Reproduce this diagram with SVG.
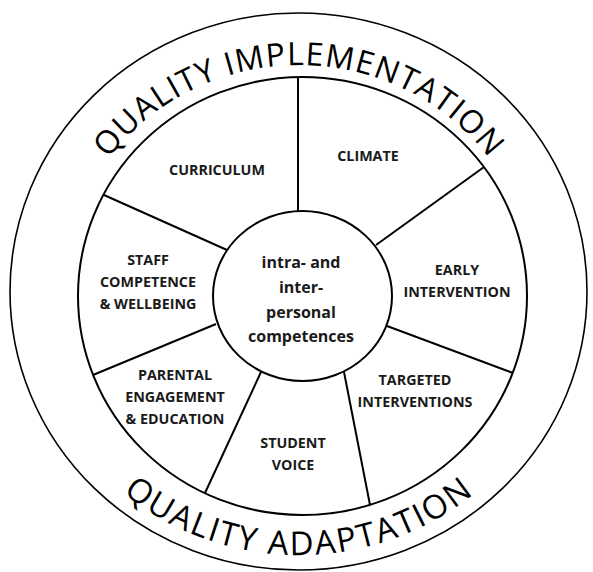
<svg xmlns="http://www.w3.org/2000/svg" width="593" height="572" viewBox="0 0 593 572">
<defs>
<style>
.ring{fill:none;stroke:#000;stroke-width:1.6}
.line{fill:none;stroke:#000;stroke-width:2}
.lbl{font-family:"Open Sans","Liberation Sans",sans-serif;font-weight:700;font-size:14.3px;fill:#1a1a1a;text-anchor:middle}
.ctr{font-family:"Open Sans","Liberation Sans",sans-serif;font-weight:700;font-size:16px;fill:#1a1a1a;text-anchor:middle}
.arc{font-family:"Open Sans","Liberation Sans",sans-serif;font-weight:400;font-size:32px;letter-spacing:1.2px;fill:#000;text-anchor:middle}
</style>
<path id="topArc" d="M 64,291.5 A 235 226.5 0 0 1 534,291.5"/>
<path id="botArc" d="M 26,291.5 A 273 263.5 0 0 0 572,291.5"/>
</defs>
<rect width="593" height="572" fill="#fff"/>
<g id="outer-ring">
<ellipse class="ring" cx="298.5" cy="291.5" rx="288.5" ry="278.5"/>
<text class="arc"><textPath href="#topArc" startOffset="50%">QUALITY IMPLEMENTATION</textPath></text>
<text class="arc" style="font-size:33px;letter-spacing:2px"><textPath href="#botArc" startOffset="50%">QUALITY ADAPTATION</textPath></text>
</g>
<g id="wheel">
<ellipse class="line" cx="302.5" cy="296" rx="224.5" ry="219"/>
</g>
<g id="connectors">
<line class="line" x1="298" y1="77" x2="298" y2="211"/>
<line class="line" x1="484" y1="167" x2="376" y2="245"/>
<line class="line" x1="513" y1="373" x2="387" y2="326"/>
<line class="line" x1="370" y1="505" x2="344" y2="372"/>
<line class="line" x1="205" y1="493" x2="261" y2="372"/>
<line class="line" x1="93" y1="375" x2="216" y2="324"/>
<line class="line" x1="104" y1="195" x2="227" y2="250"/>
</g>
<g id="center">
<ellipse class="line" cx="302.5" cy="296" rx="89.5" ry="85" fill="#fff"/>
<text class="ctr" x="301" y="268">intra- and</text>
<text class="ctr" x="301" y="293">inter-</text>
<text class="ctr" x="301" y="318">personal</text>
<text class="ctr" x="301" y="342">competences</text>
</g>
<g id="curriculum"><text class="lbl" x="217" y="175">CURRICULUM</text></g>
<g id="climate"><text class="lbl" x="368" y="161">CLIMATE</text></g>
<g id="early-intervention">
<text class="lbl" x="457" y="275">EARLY</text>
<text class="lbl" x="457" y="297">INTERVENTION</text>
</g>
<g id="targeted-interventions">
<text class="lbl" x="415" y="385">TARGETED</text>
<text class="lbl" x="415" y="407">INTERVENTIONS</text>
</g>
<g id="student-voice">
<text class="lbl" x="293" y="448">STUDENT</text>
<text class="lbl" x="293" y="470">VOICE</text>
</g>
<g id="parental-engagement">
<text class="lbl" x="175" y="380">PARENTAL</text>
<text class="lbl" x="175" y="402">ENGAGEMENT</text>
<text class="lbl" x="175" y="424">&amp; EDUCATION</text>
</g>
<g id="staff-competence">
<text class="lbl" x="148" y="265">STAFF</text>
<text class="lbl" x="148" y="287">COMPETENCE</text>
<text class="lbl" x="148" y="309">&amp; WELLBEING</text>
</g>
</svg>
